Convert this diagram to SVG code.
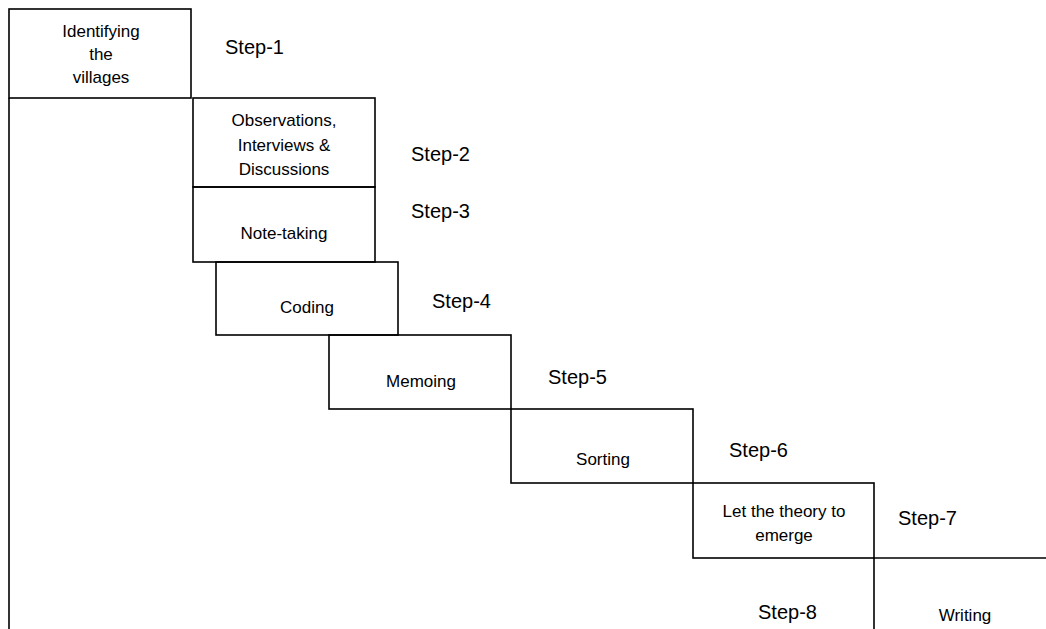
<svg xmlns="http://www.w3.org/2000/svg" width="1046" height="629" viewBox="0 0 1046 629">
<style>
.box{fill:none;stroke:#000;stroke-width:1.6}
.t{font-family:"Liberation Sans","Open Sans",sans-serif;font-size:17px;fill:#000;text-anchor:middle}
.s{font-family:"Liberation Sans","Open Sans",sans-serif;font-size:20px;fill:#000}
</style>
<rect width="1046" height="629" fill="#fff"/>
<g id="node1">
<rect class="box" x="9" y="9" width="182" height="89"/>
<path class="box" d="M9 98 V629"/>
<text class="t" x="101" y="37">Identifying</text>
<text class="t" x="101" y="60">the</text>
<text class="t" x="101" y="83">villages</text>
<text class="s" x="225" y="54">Step-1</text>
</g>
<g id="node2">
<rect class="box" x="193" y="98" width="182" height="89"/>
<text class="t" x="284" y="126">Observations,</text>
<text class="t" x="284" y="151">Interviews &amp;</text>
<text class="t" x="284" y="175">Discussions</text>
<text class="s" x="411" y="161">Step-2</text>
</g>
<g id="node3">
<rect class="box" x="193" y="187" width="182" height="75"/>
<text class="t" x="284" y="239">Note-taking</text>
<text class="s" x="411" y="218">Step-3</text>
</g>
<g id="node4">
<rect class="box" x="216" y="262" width="182" height="73"/>
<text class="t" x="307" y="313">Coding</text>
<text class="s" x="432" y="308">Step-4</text>
</g>
<g id="node5">
<rect class="box" x="329" y="335" width="182" height="74"/>
<text class="t" x="421" y="387">Memoing</text>
<text class="s" x="548" y="384">Step-5</text>
</g>
<g id="node6">
<rect class="box" x="511" y="409" width="182" height="74"/>
<text class="t" x="603" y="465">Sorting</text>
<text class="s" x="729" y="457">Step-6</text>
</g>
<g id="node7">
<rect class="box" x="693" y="483" width="181" height="75"/>
<text class="t" x="784" y="517">Let the theory to</text>
<text class="t" x="784" y="541">emerge</text>
<text class="s" x="898" y="525">Step-7</text>
</g>
<g id="node8">
<path class="box" d="M874 629 V558 H1046"/>
<text class="t" x="965" y="621">Writing</text>
<text class="s" x="758" y="619">Step-8</text>
</g>
<g id="connectors"></g>
</svg>
